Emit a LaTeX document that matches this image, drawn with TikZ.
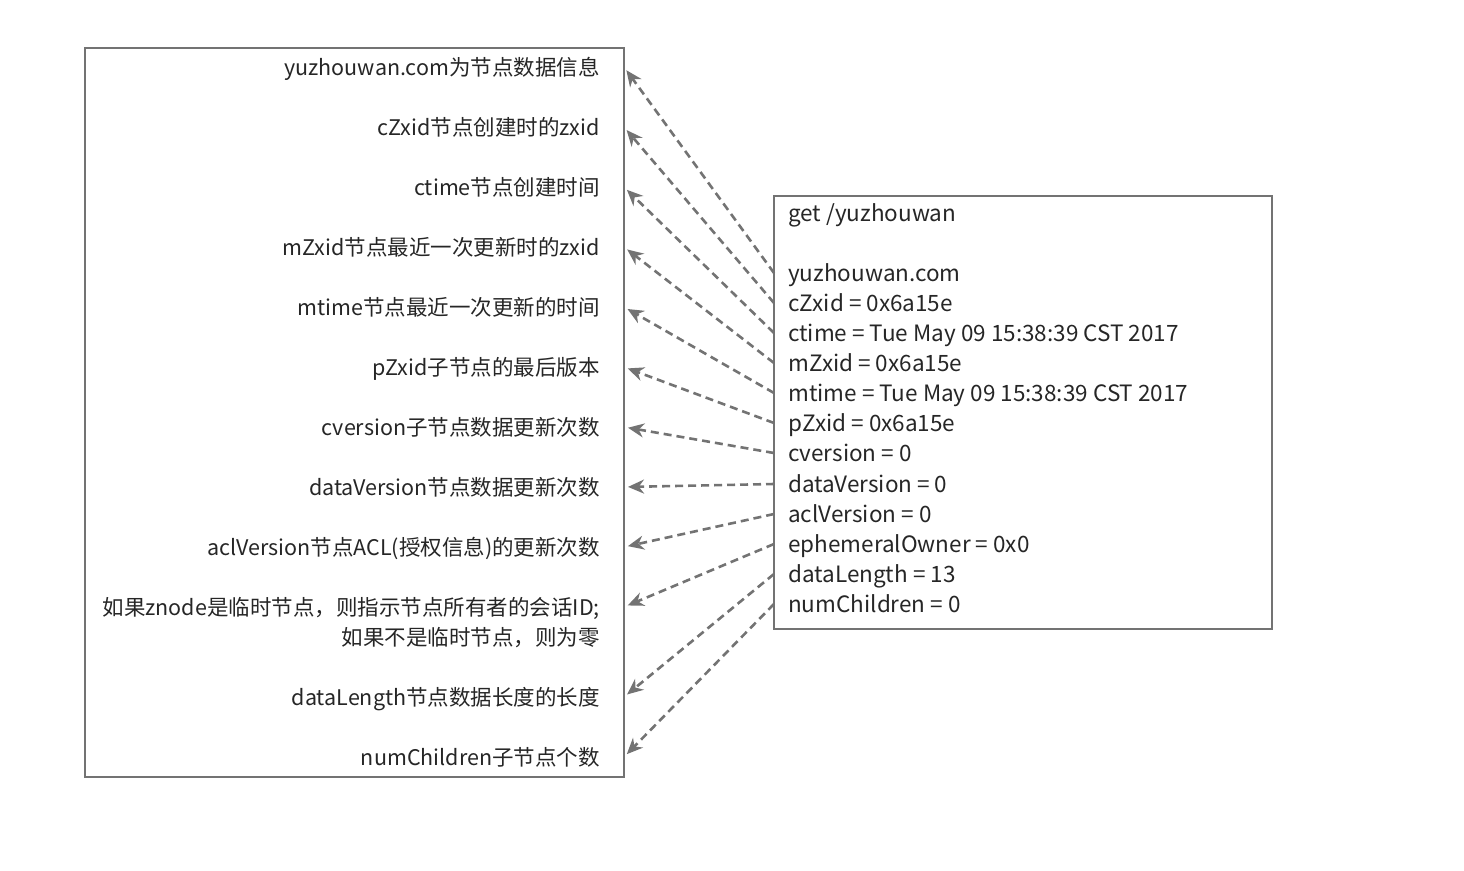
\documentclass[tikz,border=0pt]{standalone}
\usepackage{fontspec}
\setmainfont{Noto Sans CJK SC}
\usetikzlibrary{arrows.meta}

\begin{document}
\begin{tikzpicture}[x=1pt, y=-1pt,
  frame/.style={draw=black!55, line width=2pt},
  lefttext/.style={anchor=east, align=right, inner xsep=24pt, inner ysep=0pt,
    text height=20pt, text depth=3pt, font=\fontsize{21.5}{30}\selectfont, text=black!85},
  righttext/.style={anchor=west, inner xsep=14pt, inner ysep=0pt,
    text height=20pt, text depth=3pt, font=\fontsize{22.5}{30}\selectfont, text=black!85},
  link/.style={draw=black!55, line width=2.6pt, dash pattern=on 8pt off 5pt,
    -{Stealth[length=16pt, width=14pt]}, shorten >=4pt}]

\useasboundingbox (0,0) rectangle (1464,870) ;

\draw [frame] (85,48) rectangle (624,777) ;
\draw [frame] (774,196) rectangle (1272,629) ;

% left column
\node [lefttext] (l1) at (624,67) {yuzhouwan.com为节点数据信息} ;
\node [lefttext] (l2) at (624,127) {cZxid节点创建时的zxid} ;
\node [lefttext] (l3) at (624,187) {ctime节点创建时间} ;
\node [lefttext] (l4) at (624,247) {mZxid节点最近一次更新时的zxid} ;
\node [lefttext] (l5) at (624,307) {mtime节点最近一次更新的时间} ;
\node [lefttext] (l6) at (624,367) {pZxid子节点的最后版本} ;
\node [lefttext] (l7) at (624,427) {cversion子节点数据更新次数} ;
\node [lefttext] (l8) at (624,487) {dataVersion节点数据更新次数} ;
\node [lefttext] (l9) at (624,547) {aclVersion节点ACL(授权信息)的更新次数} ;
\node [lefttext] (l10a) at (624,607) {如果znode是临时节点，则指示节点所有者的会话ID;} ;
\node [lefttext] (l10b) at (624,637) {如果不是临时节点，则为零} ;
\node [lefttext] (l11) at (624,697) {dataLength节点数据长度的长度} ;
\node [lefttext] (l12) at (624,757) {numChildren子节点个数} ;

% right column
\node [righttext] (cmd) at (774,213) {get /yuzhouwan} ;
\node [righttext] (r1) at (774,273) {yuzhouwan.com} ;
\node [righttext] (r2) at (774,303) {cZxid = 0x6a15e} ;
\node [righttext] (r3) at (774,333) {ctime = Tue May 09 15:38:39 CST 2017} ;
\node [righttext] (r4) at (774,363) {mZxid = 0x6a15e} ;
\node [righttext] (r5) at (774,393) {mtime = Tue May 09 15:38:39 CST 2017} ;
\node [righttext] (r6) at (774,423) {pZxid = 0x6a15e} ;
\node [righttext] (r7) at (774,453) {cversion = 0} ;
\node [righttext] (r8) at (774,484) {dataVersion = 0} ;
\node [righttext] (r9) at (774,514) {aclVersion = 0} ;
\node [righttext] (r10) at (774,544) {ephemeralOwner = 0x0} ;
\node [righttext] (r11) at (774,574) {dataLength = 13} ;
\node [righttext] (r12) at (774,604) {numChildren = 0} ;

% arrows
\draw [link] (r1.west) to (l1.east) ;
\draw [link] (r2.west) to (l2.east) ;
\draw [link] (r3.west) to (l3.east) ;
\draw [link] (r4.west) to (l4.east) ;
\draw [link] (r5.west) to (l5.east) ;
\draw [link] (r6.west) to (l6.east) ;
\draw [link] (r7.west) to (l7.east) ;
\draw [link] (r8.west) to (l8.east) ;
\draw [link] (r9.west) to (l9.east) ;
\draw [link] (r10.west) to (l10a.east) ;
\draw [link] (r11.west) to (l11.east) ;
\draw [link] (r12.west) to (l12.east) ;

\end{tikzpicture}
\end{document}
